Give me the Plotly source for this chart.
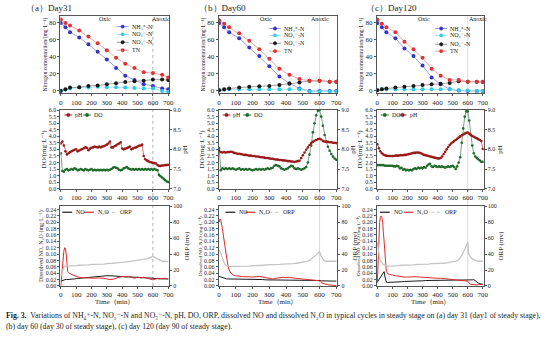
import plotly.graph_objects as go

# ---------------- data ----------------
panel_titles = ["（a）Day31", "（b）Day60", "（c）Day120"]

# nitrogen species sampling times (min)
t_n = [0, 30, 60, 120, 180, 240, 300, 360, 420, 480, 540, 600, 660, 700]

nh4_a = [80, 75, 69, 63, 55, 46, 37, 27, 18, 13, 8, 6, 3, 2]
no2_a = [0.5, 1.5, 3, 4, 4, 5, 4.5, 4.5, 4, 3.5, 3, 3, 0, -1]
no3_a = [0, 2, 4, 4.5, 6, 6.5, 8, 9, 10.5, 11.5, 12, 13.5, 13.5, 13]
tn_a = [84, 80, 77, 71, 64, 56, 48, 39, 32, 27, 22, 21, 19, 16]

nh4_b = [80, 75, 69, 62, 51, 41, 29, 17, 9, 3, 0, 0, 0, 0]
no2_b = [1, 1.5, 2, 2, 2, 2, 2, 2, 2, 2, -0.5, -0.5, -0.5, -0.5]
no3_b = [1, 2, 3, 4, 5, 5.5, 6, 7, 8.5, 10, 12, 12, 11, 11]
tn_b = [83, 79, 75, 68, 59, 49, 38, 26, 19, 14, 12, 12, 11, 11]

nh4_c = [80, 75, 69, 62, 50, 41, 30, 16, 8, 2, 0.5, 0, 0, 0]
no2_c = [1, 2, 2, 2, 2, 2, 2, 2, 2, 2, 1, 0.5, 0, 0]
no3_c = [1, 2, 3, 4, 5, 6, 7, 8, 8.5, 9.5, 11.5, 11, 11, 10.5]
tn_c = [84, 79, 75, 69, 58, 49, 39, 26, 18, 13, 13, 11, 11, 11]

# online probe readings, every 10 min
t_probe = list(range(0, 701, 10))

ph_a = [8.15, 8.20, 8.10, 7.95, 7.87, 7.90, 7.93, 7.95, 7.97, 7.99,
        8.00, 7.95, 7.97, 7.99, 8.01, 8.03, 8.05, 8.04, 7.98, 8.02,
        8.04, 8.05, 8.07, 8.06, 8.05, 8.07, 8.05, 8.07, 8.08, 8.10,
        8.12, 8.15, 8.20, 8.05, 8.05, 8.08, 8.10, 8.13, 8.15, 8.18,
        8.02, 8.00, 8.02, 8.03, 8.05, 8.07, 8.00, 8.02, 8.04, 8.05,
        8.07, 8.09, 8.10, 8.12, 7.83, 7.75, 7.72, 7.70, 7.68, 7.67,
        7.66, 7.65, 7.64, 7.60, 7.58, 7.58, 7.59, 7.59, 7.60, 7.60,
        7.61]
do_a = [2.70, 1.35, 1.30, 1.45, 1.50, 1.40, 1.45, 1.50, 1.45, 1.55,
        1.50, 1.40, 1.45, 1.50, 1.45, 1.40, 1.50, 1.45, 1.40, 1.45,
        1.50, 1.40, 1.45, 1.40, 1.45, 1.40, 1.45, 1.40, 1.45, 1.40,
        1.45, 1.40, 1.45, 1.50, 1.60, 1.65, 1.60, 1.55, 1.45, 1.40,
        1.45, 1.55, 1.60, 1.65, 1.55, 1.50, 1.45, 1.50, 1.45, 1.50,
        1.45, 1.50, 1.45, 1.50, 1.45, 1.50, 1.45, 1.50, 1.45, 1.50,
        1.45, 1.50, 1.45, 1.40, 1.05, 0.95, 0.85, 0.75, 0.65, 0.55,
        0.50]

ph_b = [7.97, 7.93, 7.92, 7.93, 7.92, 7.93, 7.93, 7.94, 7.93, 7.91,
        7.90, 7.89, 7.89, 7.88, 7.87, 7.86, 7.86, 7.85, 7.84, 7.84,
        7.83, 7.83, 7.82, 7.82, 7.81, 7.80, 7.80, 7.79, 7.78, 7.78,
        7.77, 7.76, 7.76, 7.75, 7.74, 7.74, 7.73, 7.73, 7.72, 7.72,
        7.71, 7.70, 7.70, 7.69, 7.69, 7.68, 7.69, 7.70, 7.71, 7.78,
        7.85, 7.92, 7.99, 8.05, 8.11, 8.16, 8.19, 8.22, 8.24, 8.26,
        8.27, 8.25, 8.21, 8.20, 8.19, 8.19, 8.18, 8.18, 8.17, 8.17,
        8.16]
do_b = [3.10, 1.40, 1.55, 1.50, 1.55, 1.50, 1.55, 1.50, 1.55, 1.50,
        1.45, 1.50, 1.55, 1.45, 1.50, 1.45, 1.50, 1.45, 1.50, 1.45,
        1.40, 1.45, 1.50, 1.45, 1.50, 1.45, 1.50, 1.45, 1.50, 1.55,
        1.50, 1.55, 1.60, 1.75, 1.80, 1.75, 1.70, 1.55, 1.50, 1.45,
        1.50, 1.55, 1.65, 1.75, 1.70, 1.55, 1.50, 1.55, 1.50, 1.45,
        1.50, 1.55, 1.65, 2.00, 2.60, 3.30, 4.30, 5.00, 5.60, 5.95,
        6.00, 5.50, 4.80, 4.10, 3.60, 3.20, 2.90, 2.65, 2.45, 2.30,
        2.20]

ph_c = [8.13, 8.03, 7.95, 7.90, 7.87, 7.85, 7.84, 7.83, 7.83, 7.83,
        7.83, 7.83, 7.84, 7.84, 7.84, 7.85, 7.85, 7.85, 7.86, 7.86,
        7.87, 7.88, 7.89, 7.90, 7.91, 7.91, 7.92, 7.92, 7.91, 7.90,
        7.88, 7.86, 7.85, 7.84, 7.83, 7.82, 7.81, 7.80, 7.79, 7.78,
        7.77, 7.77, 7.78, 7.82, 7.88, 7.94, 8.00, 8.06, 8.11, 8.15,
        8.18, 8.21, 8.24, 8.27, 8.30, 8.33, 8.36, 8.38, 8.40, 8.42,
        8.43, 8.40, 8.37, 8.34, 8.32, 8.30, 8.28, 8.26, 8.24, 8.21,
        8.01]
do_c = [1.80, 1.80, 1.80, 1.80, 1.80, 1.75, 1.75, 1.75, 1.75, 1.75,
        1.75, 1.70, 1.70, 1.75, 1.70, 1.55, 1.60, 1.45, 1.50, 1.40,
        1.45, 1.40, 1.45, 1.40, 1.50, 1.55, 1.50, 1.60, 1.55, 1.60,
        1.55, 1.65, 1.60, 1.75, 1.85, 1.90, 1.70, 1.65, 1.75, 1.70,
        1.65, 1.70, 1.65, 1.70, 1.65, 1.60, 1.65, 1.70, 1.65, 1.70,
        1.75, 1.65, 1.50, 1.70, 2.00, 2.40, 3.50, 4.60, 5.50, 5.90,
        5.90, 5.20, 4.10, 3.30, 2.70, 2.45, 2.35, 2.25, 2.15, 2.05,
        2.05]

# dissolved gas / ORP sensor times (min)
t_gas = [0, 5, 10, 15, 20, 25, 30, 35, 40, 45, 50, 55, 60,
         70, 80, 90, 100,
         120, 140, 160, 180, 200, 220, 240, 260, 280, 300, 320, 340,
         360, 380, 400, 420, 440, 460, 480, 500, 520, 540, 560, 580,
         590, 600, 605, 610,
         620, 630, 640, 650, 660, 670, 680, 690, 700]

no_a = [0.015, 0.016, 0.017, 0.018, 0.019, 0.020, 0.021, 0.021, 0.020, 0.020, 0.020, 0.021, 0.021,
        0.021, 0.022, 0.022, 0.023,
        0.024, 0.026, 0.027, 0.028, 0.029, 0.030, 0.031, 0.032, 0.032, 0.032, 0.032, 0.031,
        0.030, 0.030, 0.029, 0.029, 0.028, 0.028, 0.027, 0.027, 0.026, 0.026, 0.025, 0.025,
        0.024, 0.024, 0.024, 0.023,
        0.023, 0.023, 0.022, 0.022, 0.022, 0.022, 0.022, 0.022, 0.022]
n2o_a = [0.000, 0.030, 0.060, 0.090, 0.110, 0.120, 0.118, 0.100, 0.060, 0.045, 0.042, 0.040, 0.038,
         0.036, 0.034, 0.032, 0.030,
         0.027, 0.026, 0.025, 0.025, 0.025, 0.024, 0.025, 0.025, 0.024, 0.022, 0.020, 0.021,
         0.025, 0.027, 0.030, 0.028, 0.030, 0.026, 0.024, 0.028, 0.025, 0.027, 0.024, 0.022,
         0.020, 0.019, 0.020, 0.020,
         0.022, 0.024, 0.022, 0.023, 0.024, 0.025, 0.024, 0.023, 0.022]
orp_a = [12, 16, 20, 23, 24, 25, 25, 25, 25, 25, 25, 25, 25,
         25, 25.5, 25.5, 25.5,
         26, 26, 26.5, 26.5, 27, 27, 27, 27.5, 27.5, 28, 28, 28.5,
         29, 29, 29.5, 30, 30.5, 31, 31.5, 32, 32.5, 33, 34, 35.5,
         36.5, 37, 36.5, 36,
         34.5, 33, 32, 31.5, 31, 31, 31, 30.5, 30.5]

no_b = [0.030, 0.029, 0.027, 0.026, 0.025, 0.024, 0.023, 0.023, 0.022, 0.022, 0.022, 0.022, 0.022,
        0.021, 0.021, 0.021, 0.021,
        0.020, 0.020, 0.020, 0.020, 0.020, 0.020, 0.020, 0.020, 0.019, 0.019, 0.019, 0.019,
        0.019, 0.019, 0.019, 0.019, 0.019, 0.018, 0.018, 0.018, 0.018, 0.018, 0.018, 0.017,
        0.017, 0.017, 0.017, 0.016,
        0.016, 0.015, 0.015, 0.015, 0.015, 0.015, 0.015, 0.015, 0.015]
n2o_b = [0.200, 0.210, 0.205, 0.195, 0.180, 0.160, 0.140, 0.120, 0.100, 0.085, 0.072, 0.060, 0.050,
         0.040, 0.035, 0.033, 0.032,
         0.030, 0.029, 0.029, 0.028, 0.028, 0.029, 0.030, 0.028, 0.026, 0.023, 0.022, 0.024,
         0.026, 0.027, 0.026, 0.027, 0.025, 0.024, 0.022, 0.021, 0.020, 0.019, 0.018, 0.017,
         0.016, 0.016, 0.013, 0.010,
         0.008, 0.006, 0.005, 0.004, 0.003, 0.002, 0.002, 0.001, 0.001]
orp_b = [45, 44, 42, 38, 34, 31, 29, 27, 26, 25.5, 25, 25, 24.5,
         24.5, 24.5, 24.5, 24.5,
         25, 25, 25, 25, 25.5, 25.5, 26, 26, 26.5, 26.5, 27, 27,
         27, 27.5, 27.5, 28, 28, 28.5, 29, 29.5, 30.5, 32, 35, 39,
         41, 43, 40, 37,
         34, 31.5, 31, 31, 31, 31, 31, 31, 31]

no_c = [0.012, 0.016, 0.020, 0.024, 0.028, 0.032, 0.036, 0.040, 0.043, 0.045, 0.030, 0.015, 0.012,
        0.011, 0.011, 0.011, 0.012,
        0.012, 0.013, 0.013, 0.014, 0.014, 0.015, 0.015, 0.016, 0.016, 0.016, 0.017, 0.017,
        0.018, 0.018, 0.019, 0.019, 0.019, 0.019, 0.018, 0.018, 0.017, 0.017, 0.017, 0.017,
        0.017, 0.017, 0.017, 0.017,
        0.018, 0.019, 0.020, 0.016, 0.012, 0.009, 0.007, 0.006, 0.005]
n2o_c = [0.010, 0.080, 0.160, 0.200, 0.215, 0.220, 0.215, 0.200, 0.170, 0.130, 0.090, 0.060, 0.045,
         0.038, 0.036, 0.035, 0.034,
         0.032, 0.030, 0.029, 0.028, 0.028, 0.029, 0.030, 0.029, 0.028, 0.027, 0.026, 0.026,
         0.025, 0.025, 0.024, 0.024, 0.023, 0.022, 0.022, 0.021, 0.020, 0.019, 0.018, 0.017,
         0.016, 0.015, 0.012, 0.008,
         0.005, 0.004, 0.003, 0.003, 0.003, 0.004, 0.004, 0.005, 0.005]
orp_c = [55, 47, 40, 35, 32, 30, 29, 28, 27, 26.5, 26, 25.5, 25.5,
         25, 25, 25, 25,
         25.5, 25.5, 26, 26, 26, 26.5, 26.5, 27, 27, 27, 27.5, 27.5,
         28, 28, 28, 28.5, 28.5, 29, 29.5, 30, 31, 33, 38, 46,
         51, 55, 41, 39,
         36, 34, 33, 32, 31.5, 31, 31, 31, 31]

nitrogen = [(nh4_a, no2_a, no3_a, tn_a), (nh4_b, no2_b, no3_b, tn_b), (nh4_c, no2_c, no3_c, tn_c)]
probes = [(ph_a, do_a), (ph_b, do_b), (ph_c, do_c)]
gases = [(no_a, n2o_a, orp_a), (no_b, n2o_b, orp_b), (no_c, n2o_c, orp_c)]

x_ticks = [0, 100, 200, 300, 400, 500, 600, 700]
n_ticks = [0, 20, 40, 60, 80]
do_ticks = [0, 0.5, 1, 1.5, 2, 2.5, 3, 3.5, 4, 4.5, 5, 5.5, 6]
ph_ticks = [7.0, 7.5, 8.0, 8.5, 9.0]
gas_ticks = [0, 0.02, 0.04, 0.06, 0.08, 0.10, 0.12, 0.14, 0.16, 0.18, 0.20, 0.22, 0.24]
orp_ticks = [0, 20, 40, 60, 80, 100]

# ---------------- styling ----------------
W, H = 554, 340
FONT = "Liberation Serif, DejaVu Serif"

def fx(px):
    return px / W

def fy(py):
    return 1 - py / H

COLS = [(60, 170), (220, 340), (380, 488)]
ROWS = [(13, 92), (109, 189), (207, 288)]

C_NH4, C_NH4L = "#3434c8", "#8a8ae6"
C_NO2, C_NO2L = "#2ec8ea", "#8fe0f2"
C_NO3, C_NO3L = "#1a1a1a", "#8a8a8a"
C_TN, C_TNL = "#e03232", "#f09090"
C_PH, C_DO = "#9a1a1a", "#1f6a2a"
C_NO, C_N2O, C_ORP = "#1a1a1a", "#e02a2a", "#c4c4c4"
AX = "#555555"

fig = go.Figure()
layout = dict(
    width=W, height=H, margin=dict(l=0, r=0, t=0, b=0),
    paper_bgcolor="white", plot_bgcolor="white", showlegend=False,
    font=dict(family=FONT, size=7, color="#222"),
)
annotations = []
shapes = []


def axname(n):
    return "" if n == 1 else str(n)


def add_text(x, y, text, size=7, xanchor="left", angle=0, **kw):
    annotations.append(dict(
        x=fx(x), y=fy(y), xref="paper", yref="paper", text=text, showarrow=False,
        xanchor=xanchor, yanchor="middle", textangle=angle,
        font=dict(family=FONT, size=size, color="#222"), **kw))


def key(x, y, color, line_color, marker=True, dash="solid", width=0.9, half=6):
    # legend sample: short line, optionally with a dot in the middle
    shapes.append(dict(type="line", xref="paper", yref="paper",
                       x0=fx(x - half), x1=fx(x + half), y0=fy(y), y1=fy(y),
                       line=dict(color=line_color, width=width, dash=dash)))
    if marker:
        r = 1.7
        shapes.append(dict(type="circle", xref="paper", yref="paper",
                           x0=fx(x - r), x1=fx(x + r), y0=fy(y + r), y1=fy(y - r),
                           fillcolor=color, line=dict(color=color, width=0.5)))


for r in range(3):
    for c in range(3):
        n = r * 3 + c + 1
        xs, xe = COLS[c]
        ys, ye = ROWS[r]
        xa, ya = "x" + axname(n), "y" + axname(n)
        layout["xaxis" + axname(n)] = dict(
            domain=[fx(xs), fx(xe)], anchor=ya, range=[-3, 706],
            tickvals=x_ticks, showline=True, linecolor=AX, linewidth=0.8, mirror=True,
            ticks="outside", ticklen=2, tickwidth=0.6, tickcolor=AX,
            tickfont=dict(family=FONT, size=7), showgrid=False, zeroline=False,
        )
        ybase = dict(domain=[fy(ye), fy(ys)], anchor=xa, showline=True, linecolor=AX,
                     linewidth=0.8, ticks="outside", ticklen=2, tickwidth=0.6,
                     tickcolor=AX, showgrid=False, zeroline=False)
        if r == 0:
            layout["yaxis" + axname(n)] = dict(
                ybase, range=[-2.8, 88.4], tickvals=n_ticks, mirror=True,
                tickfont=dict(family=FONT, size=7),
                title=dict(text="Nitrogen concentration/(mg·L⁻¹)",
                           font=dict(family=FONT, size=5.6), standoff=1))
            nh4, no2, no3, tn = nitrogen[c]
            for vals, mc, lc, name in [(nh4, C_NH4, C_NH4L, "NH₄⁺-N"), (no2, C_NO2, C_NO2L, "NO₂⁻-N"),
                                       (no3, C_NO3, C_NO3L, "NO₃⁻-N"), (tn, C_TN, C_TNL, "TN")]:
                fig.add_trace(go.Scatter(x=t_n, y=vals, xaxis=xa, yaxis=ya, mode="lines+markers",
                                         name=name, line=dict(color=lc, width=0.8),
                                         marker=dict(color=mc, size=4)))
        else:
            n2 = 9 + (r - 1) * 3 + c + 1
            y2 = "y" + str(n2)
            if r == 1:
                layout["yaxis" + axname(n)] = dict(
                    ybase, range=[0, 6], tickvals=do_ticks, tickformat=".1f",
                    tickfont=dict(family=FONT, size=6),
                    title=dict(text="DO/(mg·L⁻¹)", font=dict(family=FONT, size=7), standoff=1))
                layout["yaxis" + str(n2)] = dict(
                    ybase, range=[7, 9], tickvals=ph_ticks, tickformat=".1f", side="right",
                    overlaying=ya, tickfont=dict(family=FONT, size=6),
                    title=dict(text="pH", font=dict(family=FONT, size=7), standoff=2))
                ph, do = probes[c]
                fig.add_trace(go.Scatter(x=t_probe, y=ph, xaxis=xa, yaxis=y2, mode="lines+markers",
                                         name="pH", line=dict(color=C_PH, width=0.6),
                                         marker=dict(color=C_PH, size=2.6)))
                fig.add_trace(go.Scatter(x=t_probe, y=do, xaxis=xa, yaxis=ya, mode="lines+markers",
                                         name="DO", line=dict(color=C_DO, width=0.6),
                                         marker=dict(color=C_DO, size=2.6)))
            else:
                layout["yaxis" + axname(n)] = dict(
                    ybase, range=[0, 0.25], tickvals=gas_ticks, tickformat=".2f",
                    tickfont=dict(family=FONT, size=6),
                    title=dict(text="Dissolved NO, N₂O (mg·L⁻¹)",
                               font=dict(family=FONT, size=5 if c else 6), standoff=1))
                layout["yaxis" + str(n2)] = dict(
                    ybase, range=[0, 100], tickvals=orp_ticks, side="right",
                    overlaying=ya, tickfont=dict(family=FONT, size=6),
                    title=dict(text="ORP (mv)", font=dict(family=FONT, size=7), standoff=2))
                no, n2o, orp = gases[c]
                fig.add_trace(go.Scatter(x=t_gas, y=orp, xaxis=xa, yaxis=y2, mode="lines",
                                         name="ORP", line=dict(color=C_ORP, width=1.3)))
                fig.add_trace(go.Scatter(x=t_gas, y=no, xaxis=xa, yaxis=ya, mode="lines",
                                         name="NO", line=dict(color=C_NO, width=1.0)))
                fig.add_trace(go.Scatter(x=t_gas, y=n2o, xaxis=xa, yaxis=ya, mode="lines",
                                         name="N₂O", line=dict(color=C_N2O, width=1.0)))

# boundary between oxic and anoxic phases, through the whole column
for c in range(3):
    xa = "x" + axname(c + 1)
    shapes.append(dict(type="line", xref=xa, yref="paper", x0=600, x1=600,
                       y0=fy(ROWS[2][1]), y1=fy(ROWS[0][0]), layer="below",
                       line=dict(color="#9a9a9a" if c == 0 else "#d0d0d0", width=0.8,
                                 dash="dot" if c == 0 else "solid")))

# panel titles, phase labels, time axis titles
title_x = [23, 198, 367]
oxic_x = [105, 268, 428]
anoxic_x = [162, 322, 482]
for c in range(3):
    add_text(title_x[c], 5, panel_titles[c], size=9)
    add_text(oxic_x[c], 16, "Oxic", size=6, xanchor="center")
    add_text(anoxic_x[c], 16, "Anoxic", size=6, xanchor="center")
    add_text((COLS[c][0] + COLS[c][1]) / 2, 304, "Time（min）", size=7, xanchor="center")

# legends, row 1
n_leg_x = [123, 277, 445]
n_leg_y = [[24, 32, 40, 48], [26, 33, 41, 49], [26, 33, 42, 49]]
n_names = ["NH₄⁺-N", "NO₂⁻-N", "NO₃⁻-N", "TN"]
n_cols = [(C_NH4, C_NH4L), (C_NO2, C_NO2L), (C_NO3, C_NO3L), (C_TN, C_TNL)]
for c in range(3):
    for i in range(4):
        key(n_leg_x[c], n_leg_y[c][i], n_cols[i][0], n_cols[i][1], half=6)
        add_text(n_leg_x[c] + 7, n_leg_y[c][i], n_names[i], size=6)

# legends, row 2
probe_leg = [
    [(68, "pH", C_PH), (87, "DO", C_DO)],
    [(228, "pH", C_PH), (249, "DO", C_DO)],
    [(388, "DO", C_DO), (406, "pH", C_PH)],
]
for c in range(3):
    for xk, lab, col in probe_leg[c]:
        key(xk, 114, col, col, half=4)
        add_text(xk + 5, 114, lab, size=6)

# legends, row 3
gas_leg = [
    [(67, "NO", C_NO, "solid"), (89, "N₂O", C_N2O, "solid"), (111, "ORP", C_ORP, "dot")],
    [(232, "NO", C_NO, "solid"), (252, "N₂O", C_N2O, "solid"), (276, "ORP", C_ORP, "dot")],
    [(388, "NO", C_NO, "solid"), (412, "N₂O", C_N2O, "solid"), (440, "ORP", C_ORP, "dot")],
]
for c in range(3):
    for xk, lab, col, dash in gas_leg[c]:
        key(xk, 213, col, col, marker=False, dash=dash, width=1.2, half=5)
        add_text(xk + 7, 213, lab, size=6)

# caption
add_text(3, 318, "<b>Fig. 3.</b>  Variations of NH₄⁺-N, NO₂⁻-N and NO₃⁻-N, pH, DO, ORP, dissolved NO "
         "and dissolved N₂O in typical cycles in steady stage on (a) day 31 (day1 of steady stage),",
         size=7.8)
add_text(3, 329, "(b) day 60 (day 30 of steady stage), (c) day 120 (day 90 of steady stage).", size=7.8)

layout["annotations"] = annotations
layout["shapes"] = shapes
fig.update_layout(**layout)
fig.write_html("out.html")
